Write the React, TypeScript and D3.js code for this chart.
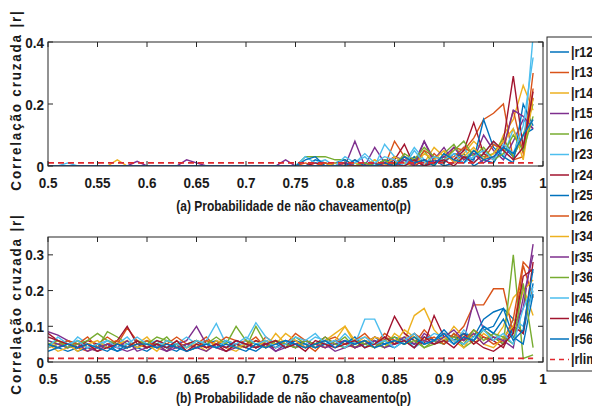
import { useEffect, useRef } from "react";
import * as d3 from "d3";

// eixo p (probabilidade de não chaveamento)
const pGrid = [
  0.5, 0.51, 0.52, 0.53, 0.54, 0.55, 0.56, 0.57, 0.58, 0.59,
  0.6, 0.61, 0.62, 0.63, 0.64, 0.65, 0.66, 0.67, 0.68, 0.69,
  0.7, 0.71, 0.72, 0.73, 0.74, 0.75, 0.76, 0.77, 0.78, 0.79,
  0.8, 0.81, 0.82, 0.83, 0.84, 0.85, 0.86, 0.87, 0.88, 0.89,
  0.9, 0.91, 0.92, 0.93, 0.94, 0.95, 0.96, 0.97, 0.98, 0.99,
];

const seriesNames = ["|r12|", "|r13|", "|r14|", "|r15|", "|r16|", "|r23|", "|r24|", "|r25|", "|r26|", "|r34|", "|r35|", "|r36|", "|r45|", "|r46|", "|r56|"];
const limName = "|rlim|";
const rLim = 0.01;

const xTicks = [0.5, 0.55, 0.6, 0.65, 0.7, 0.75, 0.8, 0.85, 0.9, 0.95, 1];
const yTicksA = [0, 0.2, 0.4];
const yTicksB = [0, 0.1, 0.2, 0.3];

// (a)
const aR12 = [0,0,0,0,0,0,0,0,0,0, 0,0,0,0,0,0,0,0,0,0, 0,0,0,0,0,0,0,0.02,0.01,0, 0,0,0,0.01,0,0.03,0.01,0,0,0.02, 0,0.01,0.04,0,0.02,0.01,0.06,0.03,0.1,0.12];
const aR13 = [0,0,0,0,0,0,0,0,0,0, 0,0,0,0,0,0,0,0,0,0, 0,0,0,0,0,0,0.01,0,0.01,0, 0,0,0,0,0,0.08,0.03,0.02,0,0.04, 0.01,0.06,0.05,0.09,0.15,0.17,0.2,0.02,0.03,0.25];
const aR14 = [0,0,0,0,0,0,0,0.02,0,0, 0,0,0,0,0,0,0,0,0,0, 0,0,0,0,0,0,0,0,0,0.01, 0,0,0,0.02,0,0.01,0,0.03,0.01,0.06, 0.03,0.02,0.04,0.08,0.05,0.02,0.1,0.15,0.26,0.18];
const aR15 = [0,0,0,0,0,0,0,0,0,0.015, 0,0,0,0,0.02,0.01,0,0,0,0, 0,0,0,0,0.02,0,0,0,0,0.01, 0,0.08,0,0.06,0.01,0.03,0.02,0.01,0.08,0.02, 0.06,0.01,0.03,0.02,0.1,0.05,0.02,0.08,0.15,0.12];
const aR16 = [0,0,0,0,0,0,0,0,0,0, 0,0,0,0,0,0,0,0,0,0, 0,0,0,0,0,0,0.03,0.03,0.03,0.02, 0.02,0,0.01,0,0.02,0,0.03,0.01,0.05,0, 0.04,0.07,0.02,0.05,0.03,0.04,0.09,0.03,0.1,0.2];
const aR23 = [0,0,0.01,0,0,0,0,0,0,0, 0,0,0,0,0,0,0,0,0,0, 0,0,0,0,0,0,0.03,0.01,0.02,0, 0,0.01,0.03,0,0.07,0.03,0.01,0.06,0.02,0.01, 0.03,0.02,0.06,0.01,0.04,0.08,0.03,0.12,0.05,0.42];
const aR24 = [0,0,0,0,0,0,0,0,0,0, 0,0,0,0,0,0,0,0,0,0, 0,0,0,0,0,0,0,0.01,0,0, 0,0,0,0.01,0,0.02,0.07,0,0.02,0.01, 0.03,0.02,0.05,0.14,0.04,0.02,0.08,0.29,0.06,0.22];
const aR25 = [0,0,0,0,0,0,0,0,0,0, 0,0,0,0,0,0,0,0,0,0, 0,0,0,0,0,0,0.02,0.03,0,0.01, 0.02,0,0.01,0,0.02,0.01,0,0.03,0,0.02, 0.01,0.04,0.03,0.02,0.15,0.06,0.03,0.01,0.2,0.13];
const aR26 = [0,0,0,0,0,0,0,0,0,0, 0,0,0,0,0,0,0,0,0,0, 0,0,0,0,0,0,0,0,0.01,0, 0,0.02,0,0.01,0,0.01,0.03,0,0.05,0.03, 0.02,0.03,0.06,0.04,0.02,0.07,0.05,0.18,0.04,0.3];
const aR34 = [0,0,0,0,0,0,0,0,0,0, 0,0,0,0,0,0,0,0,0,0, 0,0,0,0,0,0,0,0,0,0.01, 0,0.01,0,0.02,0,0.03,0.01,0,0.04,0.02, 0.05,0.01,0.03,0.06,0.02,0.04,0.08,0.12,0.02,0.22];
const aR35 = [0,0,0,0,0,0,0,0,0,0, 0,0,0,0,0,0,0,0,0,0, 0,0,0,0,0,0,0,0,0,0, 0.01,0,0,0.01,0,0,0.02,0,0.08,0.01, 0.03,0.06,0.02,0.04,0.01,0.03,0.06,0.18,0.16,0.12];
const aR36 = [0,0,0,0,0,0,0,0,0,0, 0,0,0,0,0,0,0,0,0,0, 0,0,0,0,0,0,0,0,0,0, 0,0,0.01,0,0.02,0,0.04,0.02,0.06,0.03, 0.02,0.05,0.08,0.03,0.06,0.02,0.04,0.1,0.05,0.16];
const aR45 = [0,0,0,0,0,0,0,0,0,0, 0,0,0,0,0,0,0,0,0,0, 0,0,0,0,0,0,0,0,0,0, 0.03,0.01,0.04,0.01,0.03,0.02,0,0.05,0.01,0.03, 0.02,0.04,0.01,0.03,0.05,0.02,0.07,0.04,0.13,0.35];
const aR46 = [0,0,0,0,0,0,0,0,0,0, 0,0,0,0,0,0,0,0,0,0, 0,0,0,0,0,0,0,0,0,0, 0,0,0,0,0.01,0,0,0.02,0,0.01, 0.02,0,0.03,0.01,0.04,0.08,0.05,0.02,0.06,0.24];
const aR56 = [0,0,0,0,0,0,0,0,0,0, 0,0,0,0,0,0,0,0,0,0, 0,0,0,0,0,0,0,0,0,0, 0,0.02,0,0,0.01,0,0.03,0.01,0.02,0, 0.04,0.02,0.01,0.05,0.02,0.03,0.06,0.04,0.1,0.15];

// (b)
const bR12 = [0.05,0.04,0.03,0.04,0.05,0.04,0.05,0.03,0.04,0.05, 0.04,0.05,0.04,0.03,0.05,0.04,0.05,0.06,0.04,0.05, 0.04,0.03,0.05,0.04,0.06,0.05,0.04,0.05,0.06,0.05, 0.04,0.06,0.05,0.07,0.05,0.04,0.06,0.08,0.05,0.06, 0.07,0.05,0.08,0.06,0.09,0.1,0.15,0.12,0.08,0.22];
const bR13 = [0.04,0.05,0.06,0.04,0.03,0.05,0.07,0.05,0.095,0.06, 0.04,0.05,0.03,0.06,0.04,0.05,0.07,0.04,0.03,0.05, 0.06,0.04,0.07,0.05,0.06,0.04,0.05,0.03,0.06,0.07, 0.05,0.04,0.06,0.05,0.08,0.06,0.07,0.05,0.09,0.06, 0.08,0.07,0.1,0.16,0.16,0.205,0.205,0.08,0.27,0.18];
const bR14 = [0.05,0.03,0.04,0.06,0.04,0.03,0.05,0.06,0.04,0.05, 0.07,0.04,0.06,0.05,0.03,0.04,0.06,0.05,0.04,0.03, 0.05,0.06,0.04,0.08,0.05,0.04,0.06,0.05,0.04,0.06, 0.1,0.05,0.07,0.06,0.04,0.08,0.06,0.13,0.15,0.09, 0.06,0.1,0.07,0.05,0.08,0.06,0.1,0.18,0.21,0.13];
const bR15 = [0.085,0.075,0.06,0.05,0.04,0.03,0.05,0.04,0.03,0.04, 0.05,0.04,0.03,0.05,0.06,0.1,0.05,0.04,0.03,0.04, 0.05,0.04,0.06,0.03,0.04,0.05,0.06,0.04,0.05,0.03, 0.04,0.05,0.06,0.04,0.07,0.05,0.06,0.04,0.08,0.06, 0.05,0.07,0.06,0.17,0.09,0.07,0.05,0.1,0.15,0.33];
const bR16 = [0.04,0.05,0.04,0.06,0.05,0.04,0.085,0.07,0.05,0.04, 0.06,0.05,0.07,0.04,0.05,0.06,0.04,0.05,0.06,0.05, 0.04,0.1,0.05,0.06,0.04,0.07,0.05,0.04,0.06,0.05, 0.07,0.04,0.06,0.05,0.04,0.06,0.05,0.07,0.04,0.06, 0.05,0.08,0.04,0.06,0.09,0.07,0.05,0.3,0.01,0.02];
const bR23 = [0.06,0.05,0.04,0.07,0.05,0.04,0.06,0.05,0.07,0.04, 0.05,0.06,0.04,0.05,0.07,0.05,0.06,0.108,0.05,0.04, 0.06,0.11,0.07,0.05,0.06,0.04,0.05,0.07,0.06,0.05, 0.08,0.05,0.12,0.12,0.06,0.05,0.07,0.04,0.06,0.08, 0.07,0.05,0.09,0.06,0.1,0.08,0.06,0.12,0.1,0.2];
const bR24 = [0.08,0.06,0.05,0.04,0.06,0.05,0.04,0.06,0.1,0.05, 0.04,0.06,0.05,0.04,0.05,0.06,0.04,0.05,0.03,0.05, 0.04,0.06,0.05,0.04,0.05,0.06,0.04,0.05,0.07,0.05, 0.06,0.04,0.05,0.07,0.06,0.128,0.08,0.06,0.05,0.13, 0.07,0.06,0.08,0.05,0.07,0.06,0.04,0.1,0.08,0.28];
const bR25 = [0.03,0.04,0.05,0.03,0.04,0.05,0.04,0.03,0.05,0.04, 0.03,0.05,0.04,0.05,0.03,0.04,0.05,0.04,0.06,0.04, 0.05,0.04,0.06,0.05,0.04,0.06,0.05,0.04,0.05,0.06, 0.05,0.07,0.04,0.06,0.05,0.07,0.06,0.05,0.07,0.06, 0.09,0.06,0.08,0.07,0.12,0.14,0.15,0.07,0.05,0.19];
const bR26 = [0.05,0.04,0.06,0.05,0.07,0.04,0.05,0.06,0.04,0.05, 0.06,0.04,0.05,0.07,0.05,0.04,0.06,0.05,0.07,0.06, 0.05,0.07,0.04,0.06,0.05,0.08,0.06,0.05,0.04,0.06, 0.05,0.06,0.08,0.05,0.07,0.06,0.05,0.08,0.06,0.07, 0.05,0.08,0.06,0.09,0.07,0.05,0.06,0.12,0.28,0.25];
const bR34 = [0.04,0.06,0.05,0.03,0.05,0.06,0.04,0.05,0.06,0.04, 0.05,0.03,0.06,0.05,0.04,0.05,0.03,0.06,0.05,0.04, 0.05,0.04,0.06,0.05,0.08,0.06,0.04,0.05,0.06,0.08, 0.1,0.06,0.05,0.07,0.06,0.05,0.09,0.07,0.06,0.05, 0.07,0.06,0.04,0.08,0.05,0.04,0.07,0.1,0.2,0.23];
const bR35 = [0.06,0.05,0.04,0.05,0.03,0.04,0.05,0.04,0.06,0.03, 0.04,0.05,0.03,0.04,0.05,0.04,0.03,0.05,0.04,0.06, 0.05,0.04,0.05,0.03,0.05,0.04,0.06,0.05,0.04,0.05, 0.06,0.04,0.05,0.06,0.04,0.05,0.07,0.05,0.06,0.05, 0.07,0.09,0.06,0.08,0.05,0.07,0.06,0.04,0.18,0.3];
const bR36 = [0.05,0.06,0.04,0.05,0.06,0.08,0.06,0.05,0.04,0.06, 0.05,0.07,0.06,0.05,0.04,0.06,0.05,0.07,0.05,0.1, 0.06,0.05,0.04,0.06,0.05,0.04,0.06,0.05,0.07,0.05, 0.04,0.06,0.05,0.04,0.06,0.07,0.05,0.06,0.04,0.05, 0.06,0.07,0.05,0.09,0.06,0.08,0.07,0.05,0.22,0.04];
const bR45 = [0.04,0.07,0.05,0.06,0.04,0.05,0.06,0.04,0.05,0.07, 0.05,0.04,0.06,0.05,0.04,0.06,0.05,0.04,0.06,0.05, 0.07,0.05,0.06,0.04,0.05,0.07,0.06,0.08,0.05,0.06, 0.04,0.06,0.07,0.05,0.06,0.04,0.06,0.08,0.05,0.06, 0.08,0.06,0.05,0.07,0.09,0.06,0.08,0.05,0.15,0.21];
const bR46 = [0.07,0.06,0.05,0.04,0.05,0.03,0.04,0.05,0.04,0.06, 0.04,0.05,0.04,0.06,0.03,0.05,0.04,0.05,0.04,0.06, 0.05,0.04,0.05,0.06,0.04,0.05,0.03,0.06,0.05,0.04, 0.05,0.06,0.04,0.05,0.07,0.05,0.06,0.04,0.07,0.05, 0.06,0.04,0.07,0.06,0.04,0.03,0.05,0.08,0.24,0.26];
const bR56 = [0.05,0.04,0.05,0.04,0.05,0.04,0.03,0.05,0.04,0.05, 0.05,0.04,0.05,0.04,0.03,0.04,0.05,0.04,0.05,0.04, 0.03,0.05,0.04,0.05,0.06,0.05,0.04,0.05,0.06,0.04, 0.06,0.05,0.06,0.04,0.05,0.06,0.05,0.07,0.05,0.06, 0.08,0.05,0.07,0.06,0.1,0.08,0.12,0.06,0.09,0.26];

const seriesA = [aR12, aR13, aR14, aR15, aR16, aR23, aR24, aR25, aR26, aR34, aR35, aR36, aR45, aR46, aR56];
const seriesB = [bR12, bR13, bR14, bR15, bR16, bR23, bR24, bR25, bR26, bR34, bR35, bR36, bR45, bR46, bR56];

// cores padrão do MATLAB
const palette = ["#0072BD", "#D95319", "#EDB120", "#7E2F8E", "#77AC30", "#4DBEEE", "#A2142F"];
const limColor = "#E0282E";
const axisColor = "#262626";
const textColor = "#1a1a1a";
const font = "'Liberation Sans', Arial, sans-serif";
const stretch = 1.15; // o texto da figura original é mais alto que largo

const App = () => {
  const svgRef = useRef<SVGSVGElement>(null);

  useEffect(() => {
    const svg = d3.select(svgRef.current);
    svg.selectAll("*").remove();

    const left = 48;
    const right = 543;

    // texto em negrito, esticado na vertical
    const addText = (parent, x, y, str, size, anchor, rotate = 0, spacing = 0) => {
      parent.append("text")
        .attr("transform", `translate(${x},${y}) rotate(${rotate}) scale(1,${stretch})`)
        .attr("text-anchor", anchor)
        .style("font-family", font).style("font-weight", "bold").style("font-size", `${size}px`)
        .style("letter-spacing", `${spacing}px`)
        .attr("fill", textColor)
        .text(str);
    };

    const renderPanel = (id, top, bottom, yMax, yTicks, series, xlabel, xlabelY, ylabelY) => {
      const x = d3.scaleLinear().domain([0.5, 1]).range([left, right]);
      const y = d3.scaleLinear().domain([0, yMax]).range([bottom, top]);
      const g = svg.append("g");

      g.append("clipPath").attr("id", id)
        .append("rect").attr("x", left).attr("y", top).attr("width", right - left).attr("height", bottom - top);

      const line = d3.line<number>().x((_, i) => x(pGrid[i])).y((d) => y(d));

      const plot = g.append("g").attr("clip-path", `url(#${id})`);
      series.forEach((s, i) => {
        plot.append("path")
          .attr("d", line(s))
          .attr("fill", "none")
          .attr("stroke", palette[i % palette.length])
          .attr("stroke-width", 1.4);
      });
      plot.append("path")
        .attr("d", line(pGrid.map(() => rLim)))
        .attr("fill", "none")
        .attr("stroke", limColor)
        .attr("stroke-width", 1.7)
        .attr("stroke-dasharray", "6,4");

      // caixa e ticks para dentro
      g.append("rect")
        .attr("x", left).attr("y", top).attr("width", right - left).attr("height", bottom - top)
        .attr("fill", "none").attr("stroke", axisColor).attr("stroke-width", 1);

      xTicks.forEach((t) => {
        g.append("line").attr("x1", x(t)).attr("x2", x(t)).attr("y1", bottom).attr("y2", bottom - 5).attr("stroke", axisColor);
        g.append("line").attr("x1", x(t)).attr("x2", x(t)).attr("y1", top).attr("y2", top + 5).attr("stroke", axisColor);
        addText(g, x(t), bottom + 22, String(t), 13.5, "middle");
      });

      yTicks.forEach((t) => {
        g.append("line").attr("x1", left).attr("x2", left + 5).attr("y1", y(t)).attr("y2", y(t)).attr("stroke", axisColor);
        g.append("line").attr("x1", right).attr("x2", right - 5).attr("y1", y(t)).attr("y2", y(t)).attr("stroke", axisColor);
        addText(g, left - 4, y(t) + 5.5, String(t), 13.5, "end");
      });

      addText(g, (left + right) / 2 - 2, xlabelY, xlabel, 12, "middle");
      addText(g, 21, ylabelY, "Correlação cruzada |r|", 13.5, "middle", -90, 1.8);
    };

    renderPanel("clipA", 42, 166, 0.4, yTicksA, seriesA, "(a) Probabilidade de não chaveamento(p)", 211, 100);
    renderPanel("clipB", 237, 362, 0.35, yTicksB, seriesB, "(b) Probabilidade de não chaveamento(p)", 403, 304);

    // legenda
    const legend = svg.append("g");
    legend.append("rect")
      .attr("x", 547).attr("y", 37).attr("width", 60).attr("height", 334)
      .attr("fill", "white").attr("stroke", axisColor);
    const names = [...seriesNames, limName];
    names.forEach((name, i) => {
      const ly = 52 + i * 20.5;
      const isLim = i === seriesNames.length;
      legend.append("line")
        .attr("x1", 550).attr("x2", 569).attr("y1", ly).attr("y2", ly)
        .attr("stroke", isLim ? limColor : palette[i % palette.length])
        .attr("stroke-width", isLim ? 1.7 : 1.5)
        .attr("stroke-dasharray", isLim ? "5,4" : null);
      addText(legend, 571, ly + 4.5, name, 12.5, "start");
    });
  }, []);

  return (
    <svg ref={svgRef} width={592} height={408} style={{ position: "absolute", left: 0, top: 0, background: "white" }}></svg>
  );
};

export default App;
